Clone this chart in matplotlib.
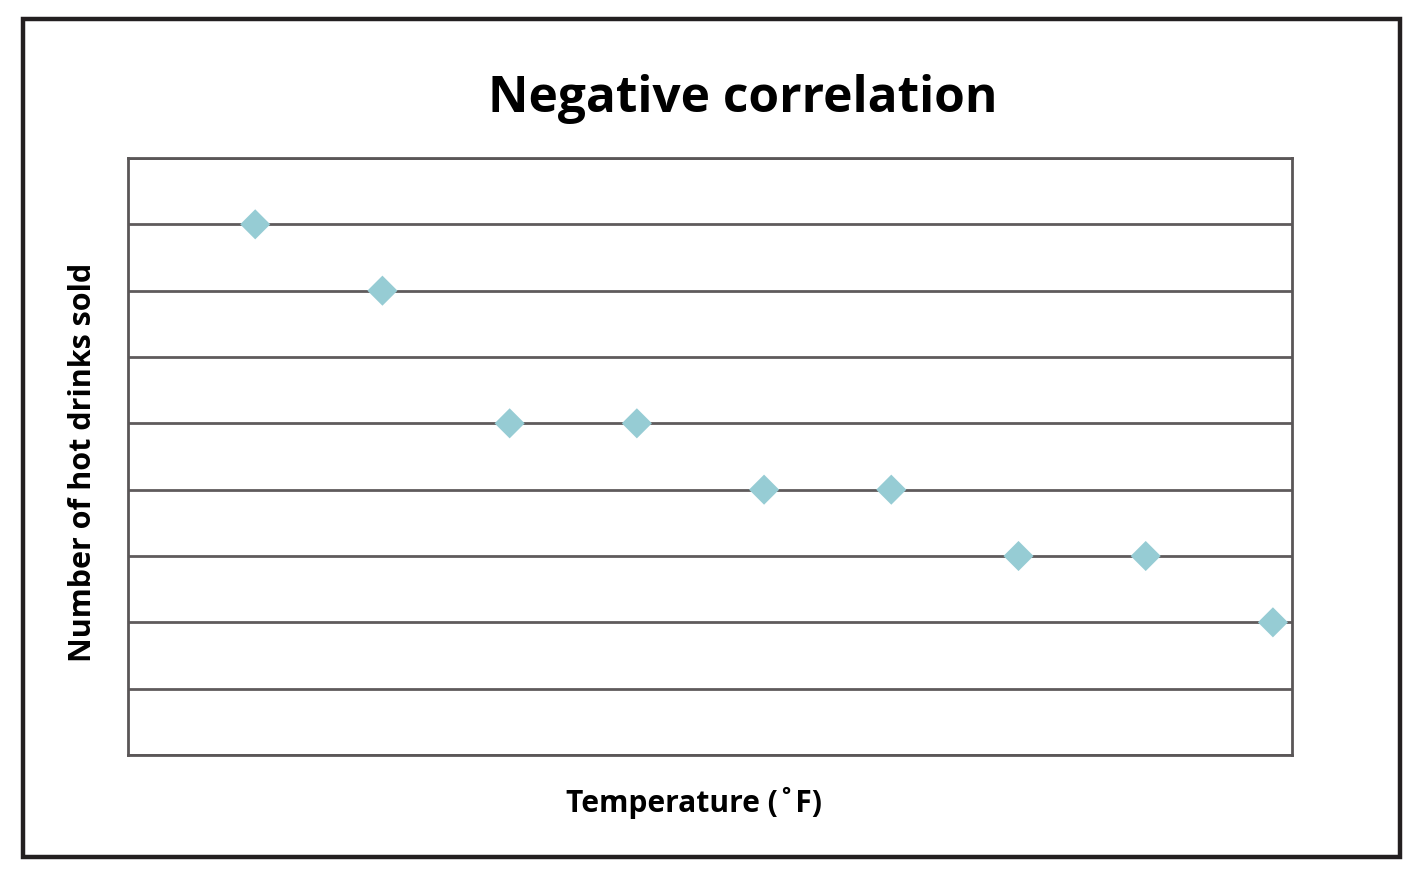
import numpy as np
import matplotlib.pyplot as plt
from matplotlib.patches import Rectangle

# Data (no tick labels shown, so arbitrary units)
temperature = [1, 2, 3, 4, 5, 6, 7, 8, 9]
hot_drinks = [8, 7, 5, 5, 4, 4, 3, 3, 2]

title = "Negative correlation"
x_label = "Temperature (˚F)"
y_label = "Number of hot drinks sold"

plt.rcParams['font.family'] = ['Open Sans', 'DejaVu Sans']

fig = plt.figure(figsize=(14.25, 8.93), dpi=100)
fig.patch.set_facecolor('white')

# Outer frame around the whole chart
fig.patches.append(Rectangle((23 / 1425, 1 - 857 / 893), 1377 / 1425, 838 / 893,
                             transform=fig.transFigure, fill=False,
                             edgecolor='#231f20', linewidth=3.2))

ax = fig.add_axes([128 / 1425, 1 - 755 / 893, 1164 / 1425, 597 / 893])
ax.scatter(temperature, hot_drinks, marker='D', s=235, color='#96ccd4',
           edgecolors='none', zorder=3)

ax.set_xlim(0, 9.15)
ax.set_ylim(0, 9)
ax.set_yticks(np.arange(0, 10))
ax.set_xticks([])
ax.yaxis.grid(True, color='#5f5b5c', linewidth=2.0)
ax.tick_params(axis='y', length=0, labelleft=False)
for side in ax.spines.values():
    side.set_color('#5a5657')
    side.set_linewidth(2.0)

fig.text(0.5214, 1 - 99 / 893, title, ha='center', va='center',
         fontsize=35.7, fontweight='bold', color='black')
fig.text(694 / 1425, 1 - 803 / 893, x_label, ha='center', va='center',
         fontsize=21.6, fontweight='bold', color='black')
fig.text(83 / 1425, 1 - 462 / 893, y_label, ha='center', va='center',
         rotation=90, fontsize=22, fontweight='bold', color='black')

fig.savefig('out.png', dpi=100)
